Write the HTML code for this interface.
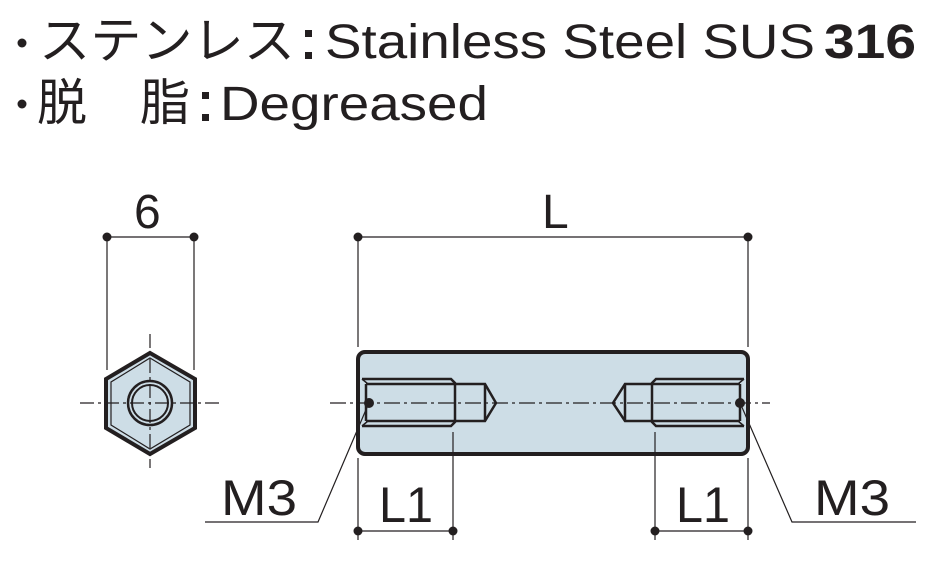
<!DOCTYPE html>
<html><head><meta charset="utf-8"><style>
html,body{margin:0;padding:0;background:#fff;}
svg{display:block;}
text{font-family:"Liberation Sans","Noto Sans CJK JP",sans-serif;fill:#231f20;}
</style></head><body>
<svg width="948" height="571" viewBox="0 0 948 571" xmlns="http://www.w3.org/2000/svg">
<!-- header -->
<circle cx="22" cy="43" r="4.5" fill="#231f20"/>
<text x="39" y="58" font-size="50" textLength="256" lengthAdjust="spacingAndGlyphs">ステンレス</text>
<rect x="305" y="30" width="7" height="7" fill="#231f20"/><rect x="305" y="52" width="7" height="7" fill="#231f20"/>
<text x="325" y="58" font-size="48" textLength="490" lengthAdjust="spacingAndGlyphs">Stainless Steel SUS</text>
<text x="824" y="58" font-size="48" font-weight="bold" textLength="92" lengthAdjust="spacingAndGlyphs">316</text>
<circle cx="22" cy="104" r="4.5" fill="#231f20"/>
<text x="37" y="120" font-size="50">脱</text>
<text x="140" y="120" font-size="50">脂</text>
<rect x="202" y="92" width="7" height="7" fill="#231f20"/><rect x="202" y="114" width="7" height="7" fill="#231f20"/>
<text x="220" y="120" font-size="48" textLength="268" lengthAdjust="spacingAndGlyphs">Degreased</text>

<g stroke="#231f20" fill="none">
<polygon points="150,353 195,379 195,428 150,454 106,428 106,379" fill="#cddde6" stroke-width="4" stroke-linejoin="miter"/>
<polygon points="150,358 190,382 190,425 150,449 111,425 111,382" stroke-width="1.2"/>
<circle cx="150" cy="403" r="22" fill="#cddde6" stroke-width="2.5"/>
<circle cx="150" cy="403" r="18" stroke-width="2"/>
<line x1="80" y1="403" x2="222" y2="403" stroke-width="1.2" stroke-dasharray="14,4,3,4"/>
<line x1="150" y1="334" x2="150" y2="468" stroke-width="1.2" stroke-dasharray="14,4,3,4"/>
<line x1="107" y1="237" x2="107" y2="370" stroke-width="1.2"/>
<line x1="194" y1="237" x2="194" y2="370" stroke-width="1.2"/>
<line x1="107" y1="237" x2="194" y2="237" stroke-width="1.2"/>

<rect x="358" y="352" width="390" height="102" rx="7" fill="#cddde6" stroke-width="4"/>
<path d="M362,379 H451 L455,383 V422 L451,426 H362" stroke-width="2.5"/>
<path d="M366,384 V421" stroke-width="2.5"/>
<path d="M362,379 L368,384 M362,426 L368,421" stroke-width="1.5"/>
<path d="M366,384 H485 L496,403 L485,421 H366" stroke-width="2.5"/>
<line x1="485" y1="384" x2="485" y2="421" stroke-width="2.5"/>
<path d="M744,379 H656 L652,383 V422 L656,426 H744" stroke-width="2.5"/>
<path d="M740,384 V421" stroke-width="2.5"/>
<path d="M744,379 L738,384 M744,426 L738,421" stroke-width="1.5"/>
<path d="M740,384 H625 L613,403 L625,421 H740" stroke-width="2.5"/>
<line x1="625" y1="384" x2="625" y2="421" stroke-width="2.5"/>
<line x1="330" y1="403" x2="770" y2="403" stroke-width="1.2" stroke-dasharray="16,4,3,4"/>
<line x1="358" y1="237" x2="748" y2="237" stroke-width="1.2"/>
<line x1="358" y1="237" x2="358" y2="347" stroke-width="1.2"/>
<line x1="748" y1="237" x2="748" y2="347" stroke-width="1.2"/>
<line x1="358" y1="458" x2="358" y2="540" stroke-width="1.2"/>
<line x1="453" y1="432" x2="453" y2="540" stroke-width="1.2"/>
<line x1="358" y1="531" x2="453" y2="531" stroke-width="1.2"/>
<line x1="655" y1="432" x2="655" y2="540" stroke-width="1.2"/>
<line x1="748" y1="458" x2="748" y2="540" stroke-width="1.2"/>
<line x1="655" y1="531" x2="748" y2="531" stroke-width="1.2"/>
<polyline points="368,405 318,522 205,522" stroke-width="1.2"/>
<polyline points="741,405 792,522 916,522" stroke-width="1.2"/>
</g>
<g fill="#231f20">
<circle cx="107" cy="237" r="4.5"/><circle cx="194" cy="237" r="4.5"/>
<circle cx="358" cy="237" r="4.5"/><circle cx="748" cy="237" r="4.5"/>
<circle cx="358" cy="531" r="4.5"/><circle cx="453" cy="531" r="4.5"/>
<circle cx="655" cy="531" r="4.5"/><circle cx="748" cy="531" r="4.5"/>
<circle cx="369" cy="403" r="5"/><circle cx="740" cy="403" r="5"/>
</g>
<text x="134" y="228" font-size="48">6</text>
<text x="542" y="228" font-size="48">L</text>
<text x="221" y="515" font-size="50" textLength="76" lengthAdjust="spacingAndGlyphs">M3</text>
<text x="814" y="515" font-size="50" textLength="76" lengthAdjust="spacingAndGlyphs">M3</text>
<text x="379" y="522" font-size="50" textLength="54" lengthAdjust="spacingAndGlyphs">L1</text>
<text x="676" y="522" font-size="50" textLength="54" lengthAdjust="spacingAndGlyphs">L1</text>
</svg>
</body></html>
